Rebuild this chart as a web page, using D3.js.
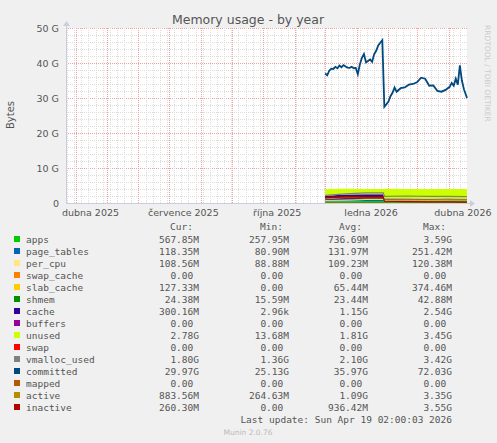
<!DOCTYPE html>
<html><head><meta charset="utf-8">
<script src="https://cdn.jsdelivr.net/npm/d3@7"></script>
<style>
body{margin:0;background:#f0f0f0;}
text{font-family:"DejaVu Sans",sans-serif;fill:#555;}
.mono{font-family:"DejaVu Sans Mono",monospace;font-size:9.5px;white-space:pre;}
</style></head>
<body><div id="chart"></div>
<script>
// committed (day offsets from 2025-12-01)
const daysC = [0,2,4,6,8,10,12,14,16,18,20,22,24,26,28,30,32,34,36,38,40,42,44,46,48,50,52,54,56,58,60,62,64,66,68,70,74,78,82,86,90,94,98,102,106,110,114,118,122,124,126,128,130,132,134,136,139];
const committed = [37,36.5,37.8,38.4,38.3,38.9,38.5,39.3,38.8,39.4,39,38.7,38.6,38.9,38.5,38.6,36.8,39.6,41.5,42.6,40.2,40.6,41,40.3,42.5,43.5,45,45.8,46.5,27.5,28.2,29,30.5,31.5,33,31.8,32.8,33,33.8,34,34.5,35.8,35.5,33.5,33.6,32,31.8,32.3,33.2,34.3,33.5,35.5,33.8,39.3,35,32.5,30];
// other series on a coarse grid (GB)
const daysS = [0,20,40,57,58,80,100,120,139];
const apps        = [0.45,0.5,0.6,0.6,0.55,0.6,0.55,0.6,0.57];
const page_tables = [0.2,0.22,0.25,0.25,0.13,0.13,0.12,0.12,0.12];
const per_cpu     = [0.1,0.1,0.1,0.1,0.11,0.11,0.11,0.11,0.11];
const swap_cache  = [0,0,0,0,0,0,0,0,0];
const slab_cache  = [0.1,0.15,0.2,0.2,0.08,0.1,0.12,0.12,0.13];
const shmem       = [0.03,0.03,0.03,0.03,0.02,0.02,0.02,0.02,0.02];
const cache       = [1.2,1.4,1.3,1.3,0.4,0.35,0.3,0.3,0.3];
const buffers     = [0,0,0,0,0,0,0,0,0];
const unused      = [1.95,1.65,1.55,1.55,2.75,2.7,2.8,2.75,2.78];
const swap        = [0,0,0,0,0,0,0,0,0];
const vmalloc_used= [2.2,2.6,2.9,2.9,1.9,2.0,1.9,1.9,1.8];
const mapped      = [0,0,0,0,0,0,0,0,0];
const active      = [1.2,1.5,1.5,1.5,0.9,0.9,0.85,0.9,0.88];
const inactive    = [1.6,1.8,1.7,1.7,0.5,0.4,0.3,0.3,0.26];

const xTicks = ["2025-04-15","2025-07-15","2025-10-15","2026-01-15","2026-04-15"];
const xTickLabels = ["dubna 2025","července 2025","října 2025","ledna 2026","dubna 2026"];
const yTicks = [0,10,20,30,40,50];

const legend = [
 ["apps","#00cc00","567.85M","257.95M","736.69M","3.59G"],
 ["page_tables","#0066b3","118.35M","80.90M","131.97M","251.42M"],
 ["per_cpu","#ffe680","108.56M","88.88M","109.23M","120.38M"],
 ["swap_cache","#ff8000","0.00","0.00","0.00","0.00"],
 ["slab_cache","#ffcc00","127.33M","0.00","65.44M","374.46M"],
 ["shmem","#008f00","24.38M","15.59M","23.44M","42.88M"],
 ["cache","#330099","300.16M","2.96k","1.15G","2.54G"],
 ["buffers","#990099","0.00","0.00","0.00","0.00"],
 ["unused","#ccff00","2.78G","13.68M","1.81G","3.45G"],
 ["swap","#ff0000","0.00","0.00","0.00","0.00"],
 ["vmalloc_used","#808080","1.80G","1.36G","2.10G","3.42G"],
 ["committed","#00487d","29.97G","25.13G","35.97G","72.03G"],
 ["mapped","#b35a00","0.00","0.00","0.00","0.00"],
 ["active","#b38f00","883.56M","264.63M","1.09G","3.35G"],
 ["inactive","#b30000","260.30M","0.00","936.42M","3.55G"]
];

const W = 497, H = 443;
const svg = d3.select("#chart").append("svg").attr("width", W).attr("height", H);
const pL = 66, pR = 467, pT = 28, pB = 203;

const x = d3.scaleTime().domain([new Date(2025,2,22), new Date(2026,3,19)]).range([pL, pR]);
const y = d3.scaleLinear().domain([0, 50]).range([pB, pT]);
const t0 = new Date(2025,11,1);
const dd = d => d3.timeDay.offset(t0, d);

svg.append("rect").attr("x", pL).attr("y", pT).attr("width", pR-pL).attr("height", pB-pT).attr("fill", "#fff");

// grid
const g = svg.append("g").attr("shape-rendering","crispEdges");
d3.range(0, 51, 2).forEach(v => g.append("line").attr("x1",pL).attr("x2",pR).attr("y1",y(v)+0.5).attr("y2",y(v)+0.5)
  .attr("stroke", v%10==0 ? "#f0a0a0" : "#ddd").attr("stroke-dasharray","1,1"));
d3.timeWeek.range(x.domain()[0], x.domain()[1]).forEach(t => g.append("line").attr("x1",x(t)+0.5).attr("x2",x(t)+0.5).attr("y1",pT).attr("y2",pB)
  .attr("stroke","#ddd").attr("stroke-dasharray","1,1"));
d3.timeMonth.range(x.domain()[0], x.domain()[1]).forEach(t => g.append("line").attr("x1",x(t)+0.5).attr("x2",x(t)+0.5).attr("y1",pT).attr("y2",pB)
  .attr("stroke","#f0a0a0").attr("stroke-dasharray","1,1"));

// stacked areas
const stackNames = ["apps","page_tables","per_cpu","swap_cache","slab_cache","shmem","cache","buffers","unused","swap"];
const stackVals = [apps,page_tables,per_cpu,swap_cache,slab_cache,shmem,cache,buffers,unused,swap];
const rows = daysS.map((d,i) => { const r = {d}; stackNames.forEach((n,k) => r[n] = stackVals[k][i]); return r; });
const series = d3.stack().keys(stackNames)(rows);
const col = n => legend.find(l => l[0]==n)[1];
const area = d3.area().x(d => x(dd(d.data.d))).y0(d => y(d[0])).y1(d => y(d[1]));
svg.selectAll("path.a").data(series).join("path").attr("d", area).attr("fill", s => col(s.key));

// lines
const line = d3.line().x(d => x(dd(d[0]))).y(d => y(d[1]));
[["vmalloc_used",vmalloc_used],["mapped",mapped],["active",active],["inactive",inactive]].forEach(([n,v]) =>
  svg.append("path").attr("d", line(daysS.map((d,i)=>[d,v[i]]))).attr("fill","none").attr("stroke",col(n)).attr("stroke-width",1.2));
svg.append("path").attr("d", line(daysC.map((d,i)=>[d,committed[i]]))).attr("fill","none").attr("stroke",col("committed")).attr("stroke-width",1.8);

// axes
svg.append("line").attr("x1",pL).attr("x2",pR+6).attr("y1",pB+0.5).attr("y2",pB+0.5).attr("stroke","#ccd");
svg.append("line").attr("x1",pL+0.5).attr("x2",pL+0.5).attr("y1",pB).attr("y2",pT-5).attr("stroke","#ccd");
svg.append("path").attr("d",`M${pR+3},${pB-3}L${pR+8},${pB+0.5}L${pR+3},${pB+4}Z`).attr("fill","#ccd");
svg.append("path").attr("d",`M${pL-3},${pT-2}L${pL+0.5},${pT-7}L${pL+4},${pT-2}Z`).attr("fill","#ccd");
yTicks.forEach(v => svg.append("text").attr("x",pL-7).attr("y",y(v)+3.5).attr("text-anchor","end").attr("font-size",9.5)
  .text(v==0 ? "0" : v + " G"));
xTicks.forEach((t,i) => svg.append("text").attr("x",x(new Date(t+"T00:00"))).attr("y",pB+13).attr("text-anchor","middle").attr("font-size",9.5).text(xTickLabels[i]));

svg.append("text").attr("x",248).attr("y",24).attr("text-anchor","middle").attr("font-size",12.5).text("Memory usage - by year");
svg.append("text").attr("transform","translate(14,115) rotate(-90)").attr("text-anchor","middle").attr("font-size",10).text("Bytes");
svg.append("text").attr("transform","translate(485,25) rotate(90)").attr("font-size",7.5).style("fill","#ccc").text("RRDTOOL / TOBI OETIKER");

// legend
const colsX = [199,289,368,452];
["Cur:","Min:","Avg:","Max:"].forEach((h,i) => svg.append("text").attr("class","mono").attr("x",colsX[i]-6).attr("y",230).attr("text-anchor","end").text(h));
legend.forEach((l,i) => {
  const yy = 243 + i*12;
  svg.append("rect").attr("x",14).attr("y",yy-7).attr("width",6).attr("height",6).attr("fill",l[1]);
  svg.append("text").attr("class","mono").attr("x",26).attr("y",yy).text(l[0]);
  l.slice(2).forEach((v,k) => svg.append("text").attr("class","mono").attr("x",colsX[k]).attr("y",yy).attr("text-anchor","end")
    .text(/[A-Za-z]$/.test(v) ? v : v + " "));
});
svg.append("text").attr("class","mono").attr("x",452).attr("y",423).attr("text-anchor","end").text("Last update: Sun Apr 19 02:00:03 2026");
svg.append("text").attr("x",248).attr("y",435).attr("text-anchor","middle").attr("font-size",7.5).style("fill","#bbb").text("Munin 2.0.76");
</script></body></html>
